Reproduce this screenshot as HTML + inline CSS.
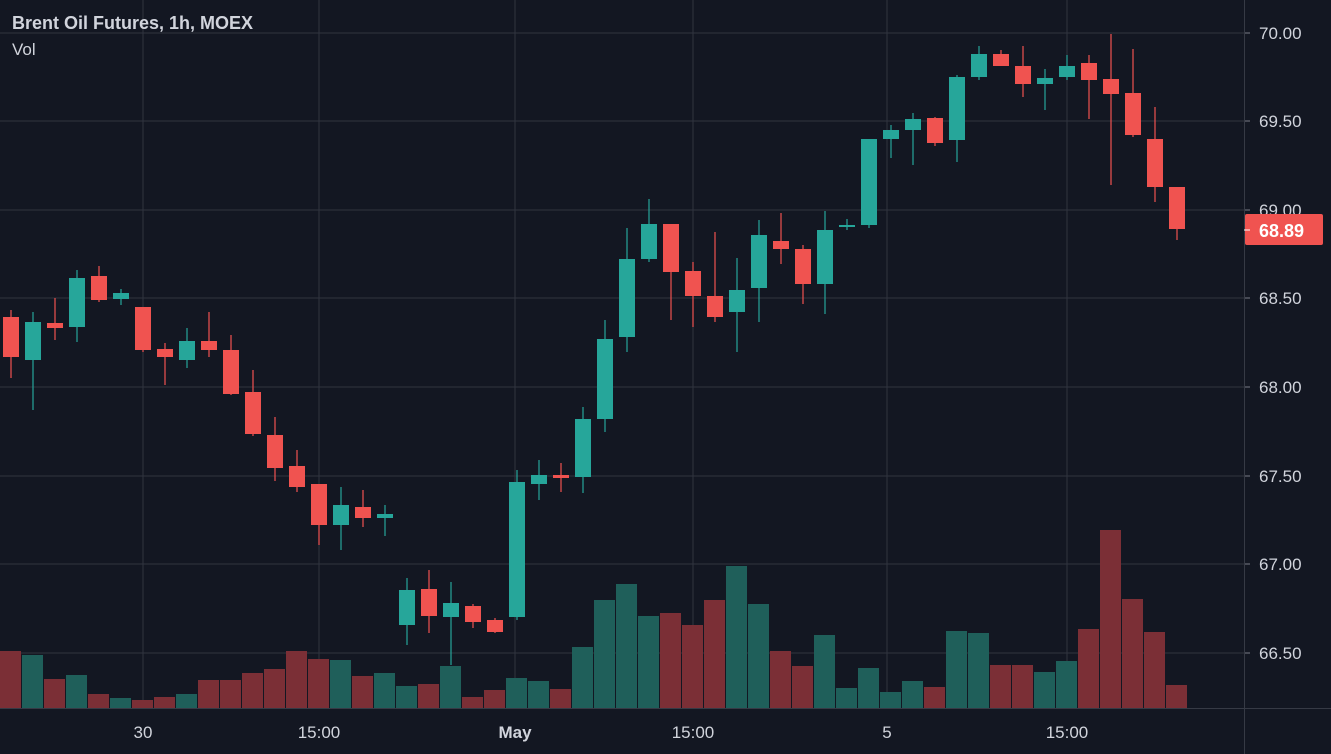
<!DOCTYPE html>
<html><head><meta charset="utf-8"><style>
html,body{margin:0;padding:0;background:#131722;overflow:hidden}
svg{display:block}
text{font-family:"Liberation Sans",sans-serif}
</style></head><body>
<svg id="c" width="1331" height="754" xmlns="http://www.w3.org/2000/svg"></svg>
<script>
const s=document.getElementById('c');let h='';
h+='<rect width="1331" height="754" fill="#131722"/>';
const levels=[[33,'70.00'],[121,'69.50'],[210,'69.00'],[298,'68.50'],[387,'68.00'],[476,'67.50'],[564,'67.00'],[653,'66.50']];
levels.forEach(l=>{h+=`<line x1="0" x2="1244" y1="${l[0]}" y2="${l[0]}" stroke="#30343f"/>`;
h+=`<line x1="1244" x2="1250" y1="${l[0]}" y2="${l[0]}" stroke="#787b86"/>`;
h+=`<text x="1259" y="${l[0]+6}" fill="#d1d4dc" font-size="17">${l[1]}</text>`;});
const times=[[143,'30'],[319,'15:00'],[515,'May'],[693,'15:00'],[887,'5'],[1067,'15:00']];
times.forEach(t=>{h+=`<line x1="${t[0]}" x2="${t[0]}" y1="0" y2="708" stroke="#30343f"/>`;
h+=`<text x="${t[0]}" y="738" fill="#d1d4dc" font-size="17" text-anchor="middle" ${t[1]=='May'?'font-weight="bold"':''}>${t[1]}</text>`;});
const vols=[['r',651],['g',655],['r',679],['g',675],['r',694],['g',698],['r',700],['r',697],['g',694],['r',680],['r',680],['r',673],['r',669],['r',651],['r',659],['g',660],['r',676],['g',673],['g',686],['r',684],['g',666],['r',697],['r',690],['g',678],['g',681],['r',689],['g',647],['g',600],['g',584],['g',616],['r',613],['r',625],['r',600],['g',566],['g',604],['r',651],['r',666],['g',635],['g',688],['g',668],['g',692],['g',681],['r',687],['g',631],['g',633],['r',665],['r',665],['g',672],['g',661],['r',629],['r',530],['r',599],['r',632],['r',685]];
vols.forEach((v,k)=>{h+=`<rect x="${k*22}" y="${v[1]}" width="21" height="${708-v[1]}" fill="${v[0]=='r'?'#7b2f36':'#1f5f5a'}"/>`;});
const c=[[317,357,310,378],[360,322,312,410],[323,328,298,340],[327,278,270,342],[276,300,266,302],[299,293,289,305],[307,350,307,352],[349,357,343,385],[360,341,328,368],[341,350,312,357],[350,394,335,395],[392,434,370,436],[435,468,417,481],[466,487,450,492],[484,525,484,545],[525,505,487,550],[507,518,490,527],[518,514,505,536],[625,590,578,645],[589,616,570,633],[617,603,582,665],[606,622,604,628],[620,632,618,633],[617,482,470,620],[484,475,460,500],[475,478,463,492],[477,419,407,493],[419,339,320,432],[337,259,228,352],[259,224,199,262],[224,272,224,320],[271,296,262,327],[296,317,232,322],[312,290,258,352],[288,235,220,322],[241,249,213,264],[249,284,245,304],[284,230,211,314],[227,225,219,230],[225,139,139,228],[139,130,125,158],[130,119,113,165],[118,143,117,146],[140,77,75,162],[77,54,46,80],[54,66,50,66],[66,84,46,97],[84,78,69,110],[77,66,55,80],[63,80,55,119],[79,94,34,185],[93,135,49,137],[139,187,107,202],[187,229,187,240]];
c.forEach((d,k)=>{const x=11+22*k;const red=d[1]>d[0];const col=red?'#f05350':'#26a69a';
const t=Math.min(d[0],d[1]),b=Math.max(d[0],d[1]);
h+=`<line x1="${x}" x2="${x}" y1="${d[2]}" y2="${d[3]}" stroke="${col}" stroke-width="1.2"/>`;
h+=`<rect x="${x-8}" y="${t}" width="16" height="${Math.max(b-t,2)}" fill="${col}"/>`;});
h+='<line x1="1244.5" x2="1244.5" y1="0" y2="754" stroke="#363a45"/>';
h+='<line x1="0" x2="1331" y1="708.5" y2="708.5" stroke="#363a45"/>';
h+='<rect x="1245" y="214" width="78" height="31" rx="2" fill="#f05350"/>';
h+='<line x1="1244" x2="1250" y1="230" y2="230" stroke="#fff"/>';
h+='<text x="1259" y="237" fill="#fff" font-size="18" font-weight="bold">68.89</text>';
h+='<text x="12" y="29" fill="#d1d4dc" font-size="18" font-weight="bold">Brent Oil Futures, 1h, MOEX</text>';
h+='<text x="12" y="55" fill="#d1d4dc" font-size="17">Vol</text>';
s.innerHTML=h;
</script>
</body></html>
